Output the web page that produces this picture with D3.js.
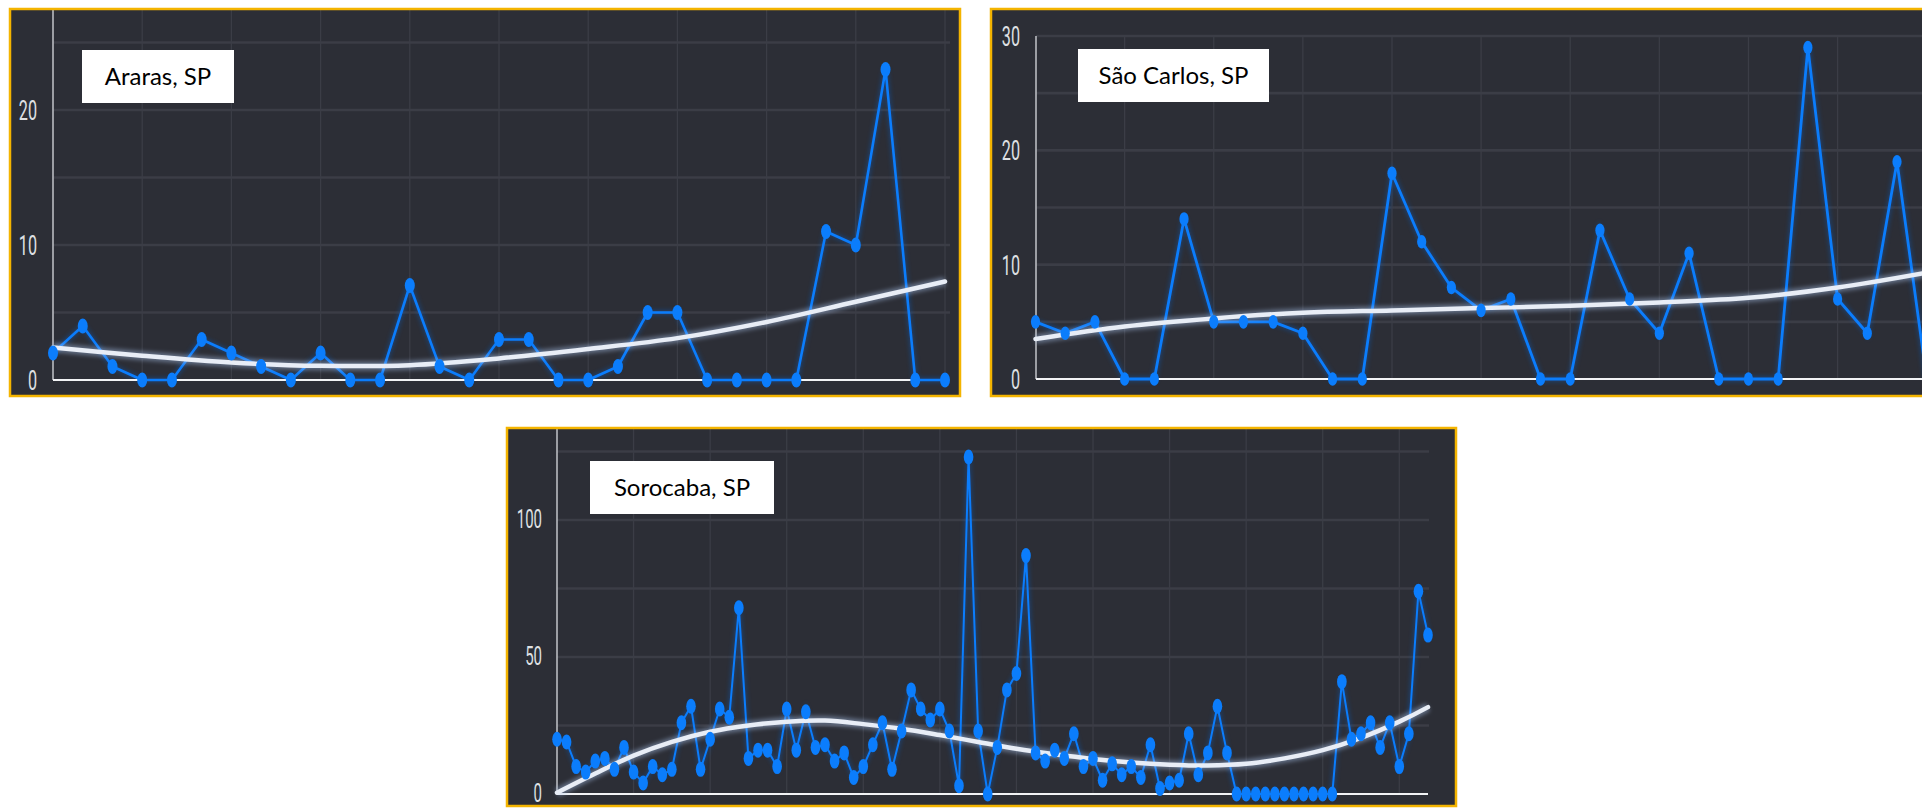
<!DOCTYPE html>
<html><head><meta charset="utf-8">
<script src="https://cdn.jsdelivr.net/npm/d3@7"></script>
<style>
html,body{margin:0;padding:0;background:#fff;}
svg{display:block;}
</style></head>
<body>
<script>
// ---------- DATA ----------
const ararasValues = [2,4,1,0,0,3,2,1,0,2,0,0,7,1,0,3,3,0,0,1,5,5,0,0,0,0,11,10,23,0,0];
const ararasTrendX = [0,3,6,9,12,15,18,21,24,27,30];
const ararasTrendY = [2.4,1.8,1.3,1.05,1.1,1.6,2.3,3.1,4.3,5.8,7.3];
const ararasTicks = [0,10,20];
const ararasGrid = [5,10,15,20,25];

const saoCarlosValues = [5,4,5,0,0,14,5,5,5,4,0,0,18,12,8,6,7,0,0,13,7,4,11,0,0,0,29,7,4,19,0];
const saoCarlosTrendX = [0,3,6,9,12,15,18,21,24,27,30];
const saoCarlosTrendY = [3.5,4.6,5.3,5.8,6.0,6.2,6.4,6.7,7.1,8.0,9.3];
const saoCarlosTicks = [0,10,20,30];
const saoCarlosGrid = [5,10,15,20,25,30];

const sorocabaValues = [20,19,10,8,12,13,9,17,8,4,10,7,9,26,32,9,20,31,28,68,13,16,16,10,31,16,30,17,18,12,
  15,6,10,18,26,9,23,38,31,27,31,23,3,123,23,0,17,38,44,87,15,12,16,13,22,10,13,5,11,7,
  10,6,18,2,4,5,22,7,15,32,15,0,0,0,0,0,0,0,0,0,0,0,41,20,22,26,17,26,10,22,74,58];
const sorocabaTrendX = [0,4,8,12,16,20,24,28,32,36,40,44,48,52,56,60,64,68,72,76,80,84,88,91];
const sorocabaTrendY = [0.5,7.5,14,19,22.7,25,26.4,26.8,25.5,23.8,21.5,19,16.5,14.5,12.8,11.5,10.7,10.4,11,13,16,20.5,26.4,31.7];
const sorocabaTicks = [0,50,100];
const sorocabaGrid = [25,50,75,100,125];

const labels = ["Araras, SP", "São Carlos, SP", "Sorocaba, SP"];

// ---------- STYLE / LAYOUT ----------
const W = 1922, H = 808;
const BG = "#2c2e36", GRID = "#3b3d46", BORDER = "#f4b400", BLUE = "#0b7dfc";

const svg = d3.select("body").append("svg").attr("width", W).attr("height", H);
svg.append("rect").attr("width", W).attr("height", H).attr("fill", "#fff");
const defs = svg.append("defs");
const glow = defs.append("filter").attr("id","glow").attr("x","-10%").attr("y","-10%").attr("width","120%").attr("height","120%");
glow.append("feGaussianBlur").attr("stdDeviation", 2.2);

const panels = [
  {id:"a", values: ararasValues, tx: ararasTrendX, ty: ararasTrendY, ticks: ararasTicks, grid: ararasGrid,
   label: labels[0], box:{x0:10,y0:9,x1:960,y1:396}, axisX:53, plotTop:10, plotRight:950, baseRight:948,
   xDom:[0,30], xRange:[53,945], yDom:[0,20], yRange:[380,110], vStep:3, vMax:30,
   lbl:{x:82,y:50,w:152,h:53}, lw:2.6, rx:5, ry:7.5, tickRight:37, tickFs:27, tickDy:0.35},
  {id:"s", values: saoCarlosValues, tx: saoCarlosTrendX, ty: saoCarlosTrendY, ticks: saoCarlosTicks, grid: saoCarlosGrid,
   label: labels[1], box:{x0:991,y0:9,x1:1940,y1:396}, axisX:1036, plotTop:36, plotRight:1930, baseRight:1930,
   xDom:[0,29], xRange:[1035.5,1897], yDom:[0,30], yRange:[379,36], vStep:3, vMax:30,
   lbl:{x:1078,y:49,w:191,h:53}, lw:2.8, rx:4.6, ry:6.8, tickRight:1020, tickFs:27, tickDy:0.35},
  {id:"c", values: sorocabaValues, tx: sorocabaTrendX, ty: sorocabaTrendY, ticks: sorocabaTicks, grid: sorocabaGrid,
   label: labels[2], box:{x0:507,y0:428,x1:1456,y1:806}, axisX:557, plotTop:429, plotRight:1429, baseRight:1428,
   xDom:[0,91], xRange:[557,1428], yDom:[0,100], yRange:[794,520], vStep:8, vMax:88,
   lbl:{x:590,y:461,w:184,h:53}, lw:2.0, rx:4.8, ry:7.5, tickRight:542, tickFs:25, tickDy:0.3}
];

panels.forEach(p => {
  const b = p.box;
  defs.append("clipPath").attr("id","clip-"+p.id)
    .append("rect").attr("x",b.x0).attr("y",b.y0).attr("width",b.x1-b.x0).attr("height",b.y1-b.y0);
  const g = svg.append("g");
  const inner = g.append("g").attr("clip-path","url(#clip-"+p.id+")");
  inner.append("rect").attr("x",b.x0).attr("y",b.y0).attr("width",b.x1-b.x0).attr("height",b.y1-b.y0).attr("fill",BG);

  const x = d3.scaleLinear().domain(p.xDom).range(p.xRange);
  const y = d3.scaleLinear().domain(p.yDom).range(p.yRange);
  const y0 = y(0);

  // vertical grid lines
  const vIdx = d3.range(p.vStep, p.vMax + 1, p.vStep);
  inner.selectAll(".vg").data(vIdx).enter().append("line")
    .attr("x1", d => x(d)).attr("x2", d => x(d))
    .attr("y1", p.plotTop).attr("y2", y0)
    .attr("stroke", GRID).attr("stroke-width", 1.3);
  // horizontal grid lines
  inner.selectAll(".hg").data(p.grid).enter().append("line")
    .attr("x1", p.axisX).attr("x2", p.plotRight)
    .attr("y1", d => y(d)).attr("y2", d => y(d))
    .attr("stroke", GRID).attr("stroke-width", 2.6);

  // axis line
  inner.append("line").attr("x1",p.axisX).attr("x2",p.axisX).attr("y1",p.plotTop).attr("y2",y0)
    .attr("stroke","#b9bbc1").attr("stroke-width",1.6);

  // series line
  const line = d3.line().x((d,i) => x(i)).y(d => y(d));
  inner.append("path").datum(p.values).attr("d", line)
    .attr("fill","none").attr("stroke","#0a5ec8").attr("stroke-width",p.lw+3).attr("opacity",0.35)
    .attr("filter","url(#glow)");
  inner.append("line").attr("x1",p.axisX).attr("x2",p.baseRight).attr("y1",y0).attr("y2",y0)
    .attr("stroke","#f2f3f5").attr("stroke-width",2.2);
  inner.append("path").datum(p.values).attr("d", line)
    .attr("fill","none").attr("stroke",BLUE).attr("stroke-width",p.lw).attr("stroke-linejoin","round");

  // trend line
  const trend = p.tx.map((v,i) => [v, p.ty[i]]);
  const tl = d3.line().x(d => x(d[0])).y(d => y(d[1])).curve(d3.curveCatmullRom.alpha(0.5));
  inner.append("path").datum(trend).attr("d", tl)
    .attr("fill","none").attr("stroke","#a9c2ea").attr("stroke-width",9).attr("opacity",0.45)
    .attr("filter","url(#glow)");
  inner.append("path").datum(trend).attr("d", tl)
    .attr("fill","none").attr("stroke","#e8edf6").attr("stroke-width",4.5).attr("stroke-linecap","round");

  // markers
  inner.selectAll(".mk").data(p.values).enter().append("ellipse")
    .attr("cx",(d,i) => x(i)).attr("cy", d => y(d))
    .attr("rx",p.rx).attr("ry",p.ry).attr("fill",BLUE);

  // label box
  inner.append("rect").attr("x",p.lbl.x).attr("y",p.lbl.y).attr("width",p.lbl.w).attr("height",p.lbl.h).attr("fill","#fff");
  inner.append("text").attr("x",p.lbl.x + p.lbl.w/2).attr("y",p.lbl.y + p.lbl.h/2 + 8.5)
    .attr("text-anchor","middle")
    .style("font-family","Lato, 'Open Sans', sans-serif").style("font-size","24px")
    .attr("fill","#000").text(p.label);

  // y axis tick labels
  const ax = g.append("g").attr("transform", `translate(${p.tickRight},0)`)
    .call(d3.axisLeft(y).tickValues(p.ticks).tickSize(0).tickPadding(0).tickFormat(d3.format("d")));
  ax.select(".domain").remove();
  ax.selectAll("text")
    .attr("x", 0).attr("dy", p.tickDy + "em")
    .attr("text-anchor","end")
    .attr("transform","scale(0.6,1)")
    .style("font-family","Roboto, 'DejaVu Sans', sans-serif")
    .style("font-size", p.tickFs + "px")
    .attr("fill","#dfe0e3");

  // border
  g.append("rect").attr("x",b.x0).attr("y",b.y0).attr("width",b.x1-b.x0).attr("height",b.y1-b.y0)
    .attr("fill","none").attr("stroke",BORDER).attr("stroke-width",2.5);
});
</script>
</body></html>
